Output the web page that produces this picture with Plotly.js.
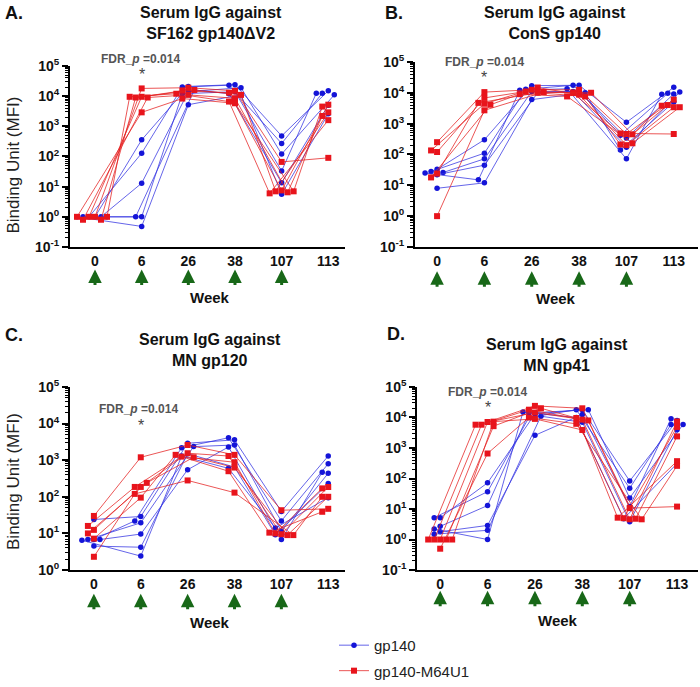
<!DOCTYPE html>
<html>
<head>
<meta charset="utf-8">
<script src="https://cdn.plot.ly/plotly-3.0.1.min.js"></script>
<style>body { margin: 0; background: #fff; }</style>
</head>
<body>
<div id="chart" style="width:700px;height:687px"></div>
<script>
var weeks = ['0', '6', '26', '38', '107', '113'];

// each row is one animal, columns follow weeks
// A. SF162 gp140dV2
var gp140A = [
  [1, 355, 21000, 24000, 480, 15000],
  [1, 128, 20000, 23000, 270, 12500],
  [1, 13, 14000, 19000, 120, 11000],
  [1, 1, 12000, 14000, 33, 12500],
  [1, 1, 16000, 12000, 13.5, 5000],
  [1, 0.48, 5200, 11000, 5.6, 2600]
];
var m64A = [
  [1, 18000, 19000, 15000, 66, 90],
  [1, 9500, 15000, 13000, 7.5, 5200],
  [0.8, 9000, 16000, 11000, 7, 2900],
  [0.8, 9000, 11000, 8500, 6.5, 2200],
  [1, 9500, 12000, 6600, 6, 1600],
  [1, 2900, 8300, 5800, 7, 4500]
];
// B. ConS gp140
var gp140B = [
  [33, 300, 17000, 17500, 1100, 15000],
  [28, 110, 13000, 17500, 340, 9200],
  [26, 72, 11000, 11000, 420, 9600],
  [22, 45, 10000, 11000, 170, 10500],
  [8, 12, 6000, 10000, 140, 5000],
  [25, 15, 12000, 13500, 72, 9000]
];
var m64B = [
  [250, 10500, 12500, 12500, 460, 6000],
  [120, 6800, 11000, 9800, 480, 460],
  [135, 4400, 14800, 8700, 200, 3400],
  [24, 4700, 10000, 7600, 210, 4000],
  [18, 4100, 9000, 7600, 230, 3400],
  [1, 2700, 10500, 10000, 450, 3800]
];
// C. MN gp120
var gp140C = [
  [24, 29, 2900, 3600, 40, 1300],
  [6.8, 22, 2200, 4100, 22, 800],
  [6.8, 19.5, 2350, 2600, 11.5, 440],
  [6.8, 9.6, 550, 2300, 6.8, 470],
  [4.5, 4.2, 1500, 650, 9.2, 230],
  [6.5, 2.4, 1300, 600, 14, 95]
];
var m64C = [
  [30, 1200, 2600, 1400, 43, 47],
  [12.5, 186, 1550, 1300, 9.5, 185],
  [16, 186, 1250, 880, 10, 170],
  [10, 240, 1200, 630, 9, 100],
  [7.2, 95, 1400, 500, 10.5, 39],
  [2.3, 120, 280, 130, 9, 100]
];
// D. MN gp41
var gp140D = [
  [5.2, 72, 13000, 18000, 83, 7900],
  [5.2, 37, 10000, 18000, 48, 5900],
  [2.7, 13, 14000, 18000, 23, 5900],
  [1.8, 2.9, 2600, 12500, 12, 9100],
  [1.5, 2.0, 11000, 7000, 3.8, 4000],
  [2.2, 1.0, 15000, 10000, 4.8, 310]
];
var m64D = [
  [1, 7100, 24000, 20000, 10.7, 12],
  [1, 5800, 18000, 8500, 4.6, 7400],
  [1, 5200, 20000, 9600, 5, 4900],
  [1, 5800, 14500, 8000, 4.8, 2400],
  [1, 7300, 9000, 3900, 5.2, 370],
  [0.5, 660, 10000, 6200, 4.6, 260]
];

var W = 700, H = 687;
function px(x) { return x / W; }
function py(y) { return 1 - y / H; }

var panels = [
  { tag: 'A.', title: 'Serum IgG against<br>SF162 gp140ΔV2', blue: gp140A, red: m64A,
    xdom: [0.1, 0.493], ydom: [0.633, 0.902], xr: [-0.536, 5.36], yr: [-1, 5],
    tagXY: [3, 13], titleXY: [211, 23], fdrXY: [140, 60], starY: 76, arrowY: 275, weekXY: [210, 304], ylab: 169 },
  { tag: 'B.', title: 'Serum IgG against<br>ConS gp140', blue: gp140B, red: m64B,
    xdom: [0.593, 0.997], ydom: [0.633, 0.908], xr: [-0.464, 5.51], yr: [-1, 5],
    tagXY: [383, 13], titleXY: [555, 23], fdrXY: [484, 63], starY: 79, arrowY: 277, weekXY: [556, 305], ylab: null },
  { tag: 'C.', title: 'Serum IgG against<br>MN gp120', blue: gp140C, red: m64C,
    xdom: [0.1, 0.493], ydom: [0.153, 0.425], xr: [-0.51, 5.36], yr: [0, 5],
    tagXY: [3, 342], titleXY: [210, 357], fdrXY: [138, 418], starY: 434, arrowY: 606, weekXY: [210, 635], ylab: 492 },
  { tag: 'D.', title: 'Serum IgG against<br>MN gp41', blue: gp140D, red: m64D,
    xdom: [0.596, 0.997], ydom: [0.153, 0.425], xr: [-0.485, 5.44], yr: [-1, 5],
    tagXY: [385, 341], titleXY: [557, 362], fdrXY: [487, 400], starY: 416, arrowY: 603, weekXY: [558, 633], ylab: null }
];

// spread overlapping points sideways, like a prism column scatter
function swarm(vals, pxX, pxY) {
  var gap = 6;
  var off = vals.map(function(r) { return r.map(function() { return 0; }); });
  for (var t = 0; t < weeks.length; t++) {
    var placed = [];
    vals.forEach(function(r, i) {
      if (r[t] == null) return;
      var y = Math.log10(r[t]) * pxY;
      var k = 0, dx;
      while (true) {
        dx = (k % 2 ? -1 : 1) * Math.ceil(k / 2) * gap;
        var hit = placed.some(function(p) {
          return Math.abs(p.x - dx) < gap * 0.95 && Math.abs(p.y - y) < 4.5;
        });
        if (!hit) break;
        k++;
      }
      placed.push({ x: dx, y: y });
      off[i][t] = dx / pxX;
    });
  }
  return off;
}

var blueLine = 'rgba(50,50,225,0.75)', blueDot = '#1414d8';
var redLine = 'rgba(228,30,30,0.75)', redDot = '#e8141c';
var tickFont = { family: 'Arial', size: 14, color: '#111', weight: 'bold' };

var data = [];
var layout = {
  width: W, height: H,
  margin: { l: 0, r: 0, t: 0, b: 0 },
  paper_bgcolor: '#fff', plot_bgcolor: '#fff',
  showlegend: true,
  legend: { x: px(334), y: py(642), xanchor: 'left', yanchor: 'top',
    font: { family: 'Arial', size: 15, color: '#222' }, tracegroupgap: 3, itemwidth: 30 },
  annotations: [],
  hovermode: false
};

panels.forEach(function(p, n) {
  var sfx = n ? String(n + 1) : '';
  var pxX = (p.xdom[1] - p.xdom[0]) * W / (p.xr[1] - p.xr[0]);
  var pxY = (p.ydom[1] - p.ydom[0]) * H / (p.yr[1] - p.yr[0]);

  [['gp140', p.blue, blueLine, blueDot, 'circle', 5.5],
   ['gp140-M64U1', p.red, redLine, redDot, 'square', 6]].forEach(function(g) {
    var off = swarm(g[1], pxX, pxY);
    g[1].forEach(function(row, i) {
      data.push({
        type: 'scatter', mode: 'lines+markers',
        x: row.map(function(v, t) { return t + off[i][t]; }),
        y: row,
        xaxis: 'x' + sfx, yaxis: 'y' + sfx,
        name: g[0], legendgroup: g[0],
        showlegend: n === 0 && i === 0,
        line: { color: g[2], width: 1 },
        marker: { color: g[3], symbol: g[4], size: g[5] },
        cliponaxis: false
      });
    });
  });

  var tv = [], tt = [];
  for (var e = p.yr[0]; e <= p.yr[1]; e++) {
    tv.push(Math.pow(10, e));
    tt.push('10<sup>' + e + '</sup>');
  }
  layout['xaxis' + sfx] = {
    domain: p.xdom, range: p.xr, anchor: 'y' + sfx,
    tickmode: 'array', tickvals: [0, 1, 2, 3, 4, 5], ticktext: weeks,
    ticks: '', showline: true, linewidth: 2, linecolor: '#000',
    showgrid: false, zeroline: false, tickfont: tickFont
  };
  layout['yaxis' + sfx] = {
    domain: p.ydom, type: 'log', range: p.yr, anchor: 'x' + sfx,
    tickmode: 'array', tickvals: tv, ticktext: tt,
    ticks: 'outside', ticklen: 6, tickwidth: 2, tickcolor: '#000',
    minor: { ticks: 'outside', ticklen: 3, tickcolor: '#000', tickwidth: 1, dtick: 'D1' },
    showline: true, linewidth: 2, linecolor: '#000',
    showgrid: false, zeroline: false, tickfont: tickFont
  };

  var A = layout.annotations;
  A.push({ xref: 'paper', yref: 'paper', x: px(p.tagXY[0]), y: py(p.tagXY[1]), xanchor: 'left', yanchor: 'middle',
    text: '<b>' + p.tag + '</b>', showarrow: false, font: { family: 'Arial', size: 18, color: '#111' } });
  A.push({ xref: 'paper', yref: 'paper', x: px(p.titleXY[0]), y: py(p.titleXY[1]), xanchor: 'center', yanchor: 'middle',
    text: '<b>' + p.title + '</b>', showarrow: false, font: { family: 'Arial', size: 16, color: '#111' } });
  A.push({ xref: 'paper', yref: 'paper', x: px(p.fdrXY[0]), y: py(p.fdrXY[1]), xanchor: 'center', yanchor: 'middle',
    text: '<b>FDR_<i>p</i> =0.014</b>', showarrow: false, font: { family: 'Arial', size: 12, color: '#555' } });
  A.push({ xref: 'x' + sfx, yref: 'paper', x: 1, y: py(p.starY), xanchor: 'center', yanchor: 'middle',
    text: '*', showarrow: false, font: { family: 'Arial', size: 16, color: '#444' } });
  A.push({ xref: 'paper', yref: 'paper', x: px(p.weekXY[0]), y: py(p.weekXY[1]), xanchor: 'center', yanchor: 'middle',
    text: '<b>Week</b>', showarrow: false, font: { family: 'Arial', size: 15, color: '#111' } });
  for (var t = 0; t < 5; t++) {
    A.push({ xref: 'x' + sfx, yref: 'paper', x: t, y: py(p.arrowY), ax: 0, ay: 17, text: '',
      showarrow: true, arrowhead: 2, arrowsize: 0.9, arrowwidth: 3, arrowcolor: '#186818' });
  }
  if (p.ylab) {
    A.push({ xref: 'paper', yref: 'paper', x: px(14), y: py(p.ylab), xanchor: 'center', yanchor: 'middle',
      textangle: -90, text: 'Binding Unit (MFI)', showarrow: false, font: { family: 'Arial', size: 17, color: '#222' } });
  }
});

Plotly.newPlot('chart', data, layout, { displayModeBar: false, staticPlot: true });
</script>
</body>
</html>
